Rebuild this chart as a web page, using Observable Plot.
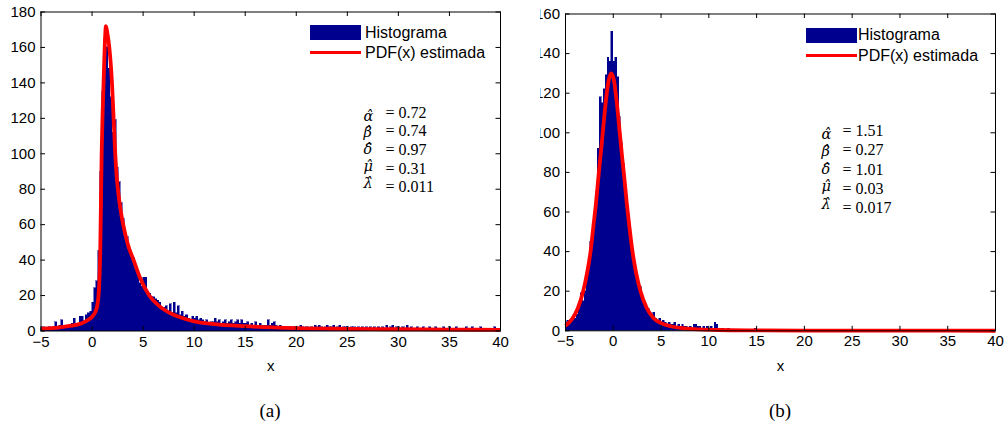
<!DOCTYPE html>
<html><head><meta charset="utf-8">
<script src="https://cdn.jsdelivr.net/npm/d3@7"></script>
<script src="https://cdn.jsdelivr.net/npm/@observablehq/plot@0.6"></script>
<style>
body{margin:0;background:#fff;}
#root{position:relative;width:1005px;height:429px;overflow:hidden;font-family:"Liberation Sans",Arial,sans-serif;}
.panel{position:absolute;top:0;overflow:hidden;}
.panel svg{overflow:hidden;}
.leg-box{position:absolute;background:#00008f;}
.leg-line{position:absolute;background:#ff0000;}
.leg-text{position:absolute;font-size:16px;line-height:1;white-space:nowrap;transform:translateY(-50%);color:#000;}
.cap{position:absolute;font-family:"Liberation Serif",serif;font-size:19px;transform:translate(-50%,-50%);color:#000;}
</style></head>
<body><div id="root"></div>
<script>
// ---------- data ----------
const binStart = -5, binWidth = 0.2;
const xTicks = [-5, 0, 5, 10, 15, 20, 25, 30, 35, 40];
const yTicksA = [0, 20, 40, 60, 80, 100, 120, 140, 160, 180];
const yTicksB = [0, 20, 40, 60, 80, 100, 120, 140, 160];

// histogram counts, panel (a): bins of 0.2 from -5 to 40
const countsA = [
 1,2,1,1,2,1,2,5,2,3,
 6,2,3,3,2,4,7,4,3,8,
 8,5,9,10,11,16,24,28,45,90,
 135,165,160,148,132,112,119,92,84,72,
 63,55,53,46,42,41,35,33,27,25,
 30,30,22,21,19,19,18,17,16,13,
 13,14,11,15,10,16,10,14,9,11,
 8,9,7,6,8,7,8,6,7,6,
 5,6,4,5,5,7,5,6,4,5,
 6,4,5,6,4,5,6,4,6,4,
 4,5,3,4,3,5,3,4,3,3,
 3,6,3,4,5,3,2,3,2,2,
 1,2,2,1,2,2,1,3,2,1,
 2,1,2,1,3,2,3,2,1,2,
 3,2,2,3,1,2,3,1,2,2,
 2,1,2,2,1,2,1,2,1,2,
 1,2,1,2,1,2,1,2,1,3,
 1,2,3,1,2,2,1,2,1,3,
 1,2,1,1,2,1,1,2,1,1,
 2,1,1,2,1,1,1,2,1,1,
 2,1,1,2,1,1,1,1,2,1,
 1,2,1,1,1,2,1,1,1,1,
 1,1,2,1,1
];
// histogram counts, panel (b): bins of 0.2 from -5 to 15 (empty beyond)
const countsB = [
 4,5,4,5,6,6,8,12,19,15,
 20,26,33,45,47,58,70,92,118,115,
 122,129,138,136,151,136,138,128,108,95,
 84,70,58,53,44,38,30,27,21,22,
 16,14,12,11,9,8,9,6,5,6,
 4,5,4,3,4,3,3,4,2,3,
 2,3,2,2,1,2,1,3,3,2,
 2,1,2,1,2,1,2,1,4,3,
 1,0,1,0,0,1,0,0,0,0,
 0,0,0,0,0,0,0,0,0,1
];

// estimated PDF curves
const pdfAx = [-5,-4,-3,-2,-1,-0.5,0,0.3,0.5,0.6,0.7,0.8,0.87,0.94,1.03,1.13,1.25,1.36,1.5,1.69,1.95,2.11,2.27,2.4,2.55,2.75,3.05,3.5,4.07,4.7,5.6,6.5,7.5,8.5,10,12,15,20,25,30,35,40];
const pdfAy = [1.3,1.6,2.2,3.0,4.4,5.8,8,10.5,14,18,26,45,72,100,122,140,162,172,168,160,140,120,100,88,79,70,60,49,40,30,20,14.5,10.5,8,5.4,3.9,2.7,1.6,1.2,1.0,0.8,0.6];
const pdfBx = [-5,-4.3,-3.7,-3.15,-2.75,-2.35,-2.1,-1.8,-1.55,-1.32,-1.1,-0.8,-0.5,-0.22,0.05,0.35,0.68,0.9,1.14,1.4,1.7,1.98,2.4,2.85,3.5,4.2,5,6,7.5,9,11,15,20,30,40];
const pdfBy = [2.6,6,11.5,20,29,41,52,65,78,89,100,115,126,130,127,116,100,89,78,65,52,41,29,20,11.5,6.5,3.9,2.3,1.2,0.7,0.4,0.2,0.1,0.05,0.03];

const paramSymbols = ["α\u0302", "β\u0302", "δ\u0302", "μ\u0302", "λ\u0302"];
const paramValuesA = ["0.72", "0.74", "0.97", "0.31", "0.011"];
const paramValuesB = ["1.51", "0.27", "1.01", "0.03", "0.017"];
const legendLabels = ["Histograma", "PDF(x) estimada"];
const captions = ["(a)", "(b)"];
const axisLabel = "x";

// ---------- drawing ----------
const NAVY = "#00008f", RED = "#ff0000";
const root = document.getElementById("root");
const SERIF = "'Liberation Serif', serif";

function panel(cfg) {
  const bins = cfg.counts.map((c, i) => ({x1: binStart + i * binWidth, x2: binStart + (i + 1) * binWidth, count: c}));
  const pdf = cfg.pdfX.map((x, i) => ({x, y: cfg.pdfY[i]}));
  const fw = cfg.width - cfg.marginLeft - cfg.marginRight;
  const fh = cfg.height - cfg.marginTop - cfg.marginBottom;
  const tk = 4.5;
  const block = {frameAnchor: "top-left", textAnchor: "start", lineAnchor: "middle", lineHeight: cfg.lineH, fontSize: 16};
  const svg = Plot.plot({
    width: cfg.width, height: cfg.height,
    marginLeft: cfg.marginLeft, marginRight: cfg.marginRight,
    marginTop: cfg.marginTop, marginBottom: cfg.marginBottom,
    style: {fontFamily: "'Liberation Sans', Arial, sans-serif", fontSize: "15px", color: "#000", background: "#fff", overflow: "hidden"},
    x: {domain: [-5, 40]},
    y: {domain: [0, cfg.yMax]},
    marks: [
      Plot.rectY(bins, {x1: "x1", x2: "x2", y: "count", fill: NAVY, stroke: NAVY, strokeWidth: 0.5, inset: 0, shapeRendering: "crispEdges"}),
      Plot.line(pdf, {x: "x", y: "y", stroke: RED, strokeWidth: 3.8, curve: "monotone-x", strokeLinecap: "butt"}),
      Plot.frame({stroke: "#000", strokeWidth: 1}),
      Plot.tickY(cfg.yTicks, {y: d => d, stroke: "#000", insetRight: fw - tk}),
      Plot.tickY(cfg.yTicks, {y: d => d, stroke: "#000", insetLeft: fw - tk}),
      Plot.tickX(xTicks, {x: d => d, stroke: "#000", insetBottom: fh - tk}),
      Plot.tickX(xTicks, {x: d => d, stroke: "#000", insetTop: fh - tk}),
      Plot.axisX({ticks: xTicks, tickSize: 0, tickPadding: 5, label: null}),
      Plot.axisY({ticks: cfg.yTicks, tickSize: 0, tickPadding: 5.5, label: null}),
      Plot.text([axisLabel], {text: d => d, frameAnchor: "bottom", lineAnchor: "middle", dy: 35.5, fontSize: 15}),
      Plot.text([paramSymbols.join("\n")], {...block, text: d => d, dx: cfg.symDx, dy: cfg.blockDy, fontFamily: "'DejaVu Serif', serif", fontStyle: "italic", fontSize: 14.5}),
      Plot.text([cfg.values.map(v => "= " + v).join("\n")], {...block, text: d => d, dx: cfg.valDx, dy: cfg.blockDy, fontFamily: SERIF})
    ]
  });
  const div = document.createElement("div");
  div.className = "panel";
  div.style.left = cfg.left + "px";
  div.style.width = cfg.width + "px";
  div.style.height = cfg.height + "px";
  div.appendChild(svg);
  root.appendChild(div);
}

panel({counts: countsA, pdfX: pdfAx, pdfY: pdfAy, yMax: 180, yTicks: yTicksA, values: paramValuesA,
  left: 0, width: 510, height: 380, marginLeft: 40.5, marginRight: 10, marginTop: 11.5, marginBottom: 49.5,
  symDx: 322.5, valDx: 344.5, blockDy: 137, lineH: 1.17});
panel({counts: countsB, pdfX: pdfBx, pdfY: pdfBy, yMax: 160, yTicks: yTicksB, values: paramValuesB,
  left: 540, width: 465, height: 380, marginLeft: 25, marginRight: 10, marginTop: 13.5, marginBottom: 49.7,
  symDx: 256, valDx: 277, blockDy: 154.3, lineH: 1.21});

function legend(boxLeft, boxTop, lineTop, textLeft, t1, t2) {
  const b = document.createElement("div"); b.className = "leg-box";
  Object.assign(b.style, {left: boxLeft + "px", top: boxTop + "px", width: "51px", height: "15px"});
  const l = document.createElement("div"); l.className = "leg-line";
  Object.assign(l.style, {left: boxLeft + "px", top: lineTop + "px", width: "51px", height: "3px"});
  const a = document.createElement("div"); a.className = "leg-text"; a.textContent = legendLabels[0];
  Object.assign(a.style, {left: textLeft + "px", top: t1 + "px"});
  const c = document.createElement("div"); c.className = "leg-text"; c.textContent = legendLabels[1];
  Object.assign(c.style, {left: textLeft + "px", top: t2 + "px"});
  root.append(b, l, a, c);
}
legend(310, 24.5, 50.5, 365, 32.5, 53);
legend(806, 27.5, 53.5, 858, 35, 55.5);

[[270, captions[0]], [780, captions[1]]].forEach(([cx, t]) => {
  const d = document.createElement("div"); d.className = "cap"; d.textContent = t;
  Object.assign(d.style, {left: cx + "px", top: "411px"});
  root.appendChild(d);
});
</script></body></html>
